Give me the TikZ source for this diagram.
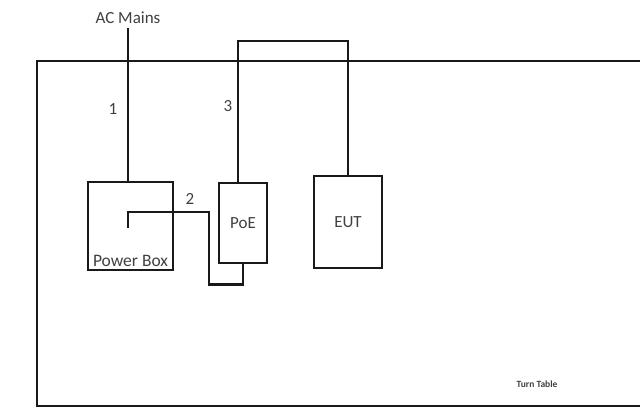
\documentclass[tikz,border=0pt]{standalone}
\usepackage{fontspec}
\setmainfont{Carlito}
\usetikzlibrary{positioning}

\begin{document}
\begin{tikzpicture}[x=1pt,y=-1pt,line width=2.5pt,line join=miter,every node/.style={text=black!75,font=\fontsize{17}{19}\selectfont},
  unit/.style={draw=black!90,line width=2.5pt,inner sep=0pt}]
\useasboundingbox (0,0) rectangle (640,408);
% turn table
\draw[black!90] (641,61) -- (37,61) -- (37,406) -- (641,406);
\node[font=\fontsize{9.5}{10}\selectfont\bfseries] (tt) at (537,384) {Turn Table};
% units
\node (ac) at (128,18) {AC Mains};
\node[unit,minimum width=85pt,minimum height=88pt,label={[anchor=south,inner sep=3pt,font=\fontsize{17.5}{19}\selectfont,text=black!75]south:Power Box}] (pbox) at (130.5,226) {};
\node[unit,minimum width=48pt,minimum height=80pt] (poe) at (243,223) {PoE};
\node[unit,minimum width=68pt,minimum height=92pt] (eut) at (348,222) {EUT};
% cables
\coordinate (plug) at (128,228);
\coordinate (bend) at (209,212);
\coordinate (loop) at (238,41);
\draw[black!90] (ac.south) -- (ac.south |- pbox.north);
\draw[black!90] (plug) |- (bend) |- ([yshift=-20pt]poe.south) -- (poe.south);
\draw[black!90] (loop |- poe.north) -- (loop) -| (eut.north);
\node (n1) at (113,109) {1};
\node (n2) at (190,199) {2};
\node (n3) at (228,106) {3};
\end{tikzpicture}
\end{document}
